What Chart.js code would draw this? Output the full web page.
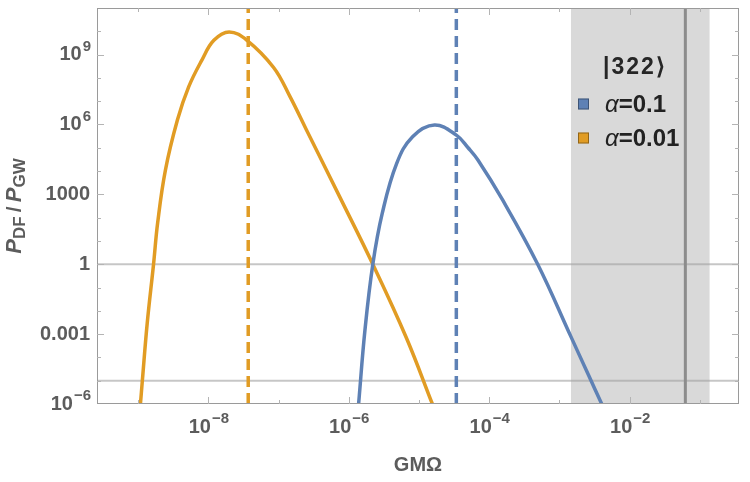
<!DOCTYPE html>
<html>
<head>
<meta charset="utf-8">
<title>P_DF / P_GW</title>
<script src="https://cdn.jsdelivr.net/npm/chart.js@4.4.1/dist/chart.umd.min.js"></script>
<style>
  html, body { margin: 0; padding: 0; background: #fff; }
</style>
</head>
<body>
<canvas id="ratioChart" width="750" height="482"></canvas>
<script>
// alpha = 0.01 curve (GM*Omega vs P_DF/P_GW)
const omegaA001 = [1.08e-9, 1.15e-9, 1.35e-9, 1.66e-9, 1.9e-9, 2.45e-9, 3.63e-9, 5.25e-9, 8.1e-9, 1.2e-8, 1.98e-8, 3.55e-8, 8.5e-8, 1.45e-7, 2.5e-7, 7.4e-7, 2.2e-6, 6.6e-6, 1.55e-5];
const ratioA001 = [1e-6, 1e-5, 3e-3, 1, 60, 1.1e4, 1.55e6, 4.1e7, 5.8e8, 4.1e9, 9.4e9, 4.1e9, 2.8e8, 1.6e7, 5.8e5, 800, 1, 7e-4, 1e-6];

// alpha = 0.1 curve
const omegaA01 = [1.38e-6, 1.7e-6, 2.2e-6, 3.0e-6, 4.8e-6, 8.1e-6, 1.66e-5, 3.4e-5, 5.0e-5, 6.9e-5, 1.55e-4, 4.9e-4, 1.45e-3, 2.6e-3, 4e-3];
const ratioA01 = [1e-6, 1.5e-3, 1, 155, 2.1e4, 3e5, 9.5e5, 3.5e5, 1e5, 3e4, 575, 1, 8e-4, 1.7e-5, 1e-6];

const seriesNames = ['α=0.1', 'α=0.01'];
const legendTitle = '|322⟩';

// dashed markers (alpha=0.1, alpha=0.01), shaded band, solid cutoff, reference levels
const dashOmega = [3.4e-5, 3.7e-8];
const bandOmega = [1.45e-3, 0.138];
const cutoffOmega = 0.062;
const refRatios = [1, 1e-5];

// axes
const xRange = [2.6e-10, 0.36];
const yRange = [1e-6, 1e11];
const xTickValues = [1e-8, 1e-6, 1e-4, 1e-2];
const xTickLabels = ['10^−8', '10^−6', '10^−4', '10^−2'];
const yTickValues = [1e-6, 1e-3, 1, 1e3, 1e6, 1e9];
const yTickLabels = ['10^−6', '0.001', '1', '1000', '10^6', '10^9'];
const xTitle = 'GMΩ';

const blue = '#5e81b5';
const orange = '#e19c24';
const textColor = '#5c5c5c';
const FONT = '"Liberation Sans", Arial, sans-serif';

const toPoints = (xs, ys) => xs.map((x, i) => ({ x: x, y: ys[i] }));

const datasets = [
  {
    label: seriesNames[0], data: toPoints(omegaA01, ratioA01),
    borderColor: blue, borderWidth: 3.5, pointRadius: 0, tension: 0.4
  },
  {
    label: seriesNames[1], data: toPoints(omegaA001, ratioA001),
    borderColor: orange, borderWidth: 3.5, pointRadius: 0, tension: 0.4
  },
  {
    label: 'dash 0.1', data: [{ x: dashOmega[0], y: yRange[0] }, { x: dashOmega[0], y: yRange[1] }],
    borderColor: blue, borderWidth: 3.5, borderDash: [11, 6], pointRadius: 0
  },
  {
    label: 'dash 0.01', data: [{ x: dashOmega[1], y: yRange[0] }, { x: dashOmega[1], y: yRange[1] }],
    borderColor: orange, borderWidth: 3.5, borderDash: [11, 6], pointRadius: 0
  },
  {
    label: 'cutoff', data: [{ x: cutoffOmega, y: yRange[0] }, { x: cutoffOmega, y: yRange[1] }],
    borderColor: '#8c8c8c', borderWidth: 3, pointRadius: 0
  }
];
refRatios.forEach(r => {
  datasets.push({
    label: 'ref ' + r, data: [{ x: xRange[0], y: r }, { x: xRange[1], y: r }],
    borderColor: 'rgba(160,160,160,0.6)', borderWidth: 2, pointRadius: 0
  });
});
datasets.push({
  label: 'band', data: [{ x: bandOmega[0], y: yRange[0] }, { x: bandOmega[1], y: yRange[0] }],
  borderWidth: 0, pointRadius: 0, fill: 'end', backgroundColor: '#d9d9d9'
});

// "10^-6" -> "10" with a raised exponent
function drawPower(ctx, text, x, y, align) {
  const parts = text.split('^');
  const baseFont = 'bold 20px ' + FONT;
  const supFont = 'bold 15px ' + FONT;
  ctx.font = baseFont;
  const wb = ctx.measureText(parts[0]).width;
  let we = 0;
  if (parts[1]) { ctx.font = supFont; we = ctx.measureText(parts[1]).width; }
  const total = wb + we;
  const x0 = align === 'right' ? x - total : x - total / 2;
  ctx.textAlign = 'left';
  ctx.textBaseline = 'middle';
  ctx.font = baseFont;
  ctx.fillText(parts[0], x0, y);
  if (parts[1]) {
    ctx.font = supFont;
    ctx.fillText(parts[1], x0 + wb + 1, y - 8);
  }
}

const framePlugin = {
  id: 'frame',
  afterDraw(chart) {
    const { ctx, chartArea: a, scales: { x, y } } = chart;
    ctx.save();

    // frame
    ctx.strokeStyle = '#9a9a9a';
    ctx.lineWidth = 1;
    ctx.strokeRect(a.left + 0.5, a.top + 0.5, a.right - a.left - 1, a.bottom - a.top - 1);

    // inward tick marks, one per decade
    ctx.strokeStyle = '#b4b4b4';
    ctx.beginPath();
    for (let k = -9; k <= -1; k++) {
      const px = Math.round(x.getPixelForValue(Math.pow(10, k))) + 0.5;
      const len = k % 2 === 0 ? 7 : 4;
      ctx.moveTo(px, a.bottom); ctx.lineTo(px, a.bottom - len);
      ctx.moveTo(px, a.top); ctx.lineTo(px, a.top + len);
    }
    for (let k = -5; k <= 10; k++) {
      const py = Math.round(y.getPixelForValue(Math.pow(10, k))) + 0.5;
      const len = k % 3 === 0 ? 7 : 4;
      ctx.moveTo(a.left, py); ctx.lineTo(a.left + len, py);
      ctx.moveTo(a.right, py); ctx.lineTo(a.right - len, py);
    }
    ctx.stroke();

    // tick labels
    ctx.fillStyle = textColor;
    xTickValues.forEach((v, i) => drawPower(ctx, xTickLabels[i], x.getPixelForValue(v), 427, 'center'));
    yTickValues.forEach((v, i) => drawPower(ctx, yTickLabels[i], a.left - 7, y.getPixelForValue(v), 'right'));

    // x title
    ctx.font = 'bold 20px ' + FONT;
    ctx.textAlign = 'center';
    ctx.textBaseline = 'middle';
    ctx.fillText(xTitle, (a.left + a.right) / 2, 465);

    // y title: P_DF / P_GW, rotated
    ctx.save();
    ctx.translate(21, (a.top + a.bottom) / 2);
    ctx.rotate(-Math.PI / 2);
    ctx.textAlign = 'left';
    ctx.textBaseline = 'alphabetic';
    const pieces = [
      ['P', 'italic bold 22px ', 0], ['DF', 'bold 17px ', 4], ['\u2009/\u2009', 'bold 21px ', 0],
      ['P', 'italic bold 22px ', 0], ['GW', 'bold 17px ', 4]
    ];
    let w = 0;
    pieces.forEach(p => { ctx.font = p[1] + FONT; w += ctx.measureText(p[0]).width; });
    let cx = -w / 2;
    pieces.forEach(p => {
      ctx.font = p[1] + FONT;
      ctx.fillText(p[0], cx, p[2]);
      cx += ctx.measureText(p[0]).width;
    });
    ctx.restore();

    // legend
    ctx.fillStyle = '#262626';
    ctx.font = 'bold 23px ' + FONT;
    ctx.textAlign = 'left';
    ctx.textBaseline = 'middle';
    ctx.letterSpacing = '2px';
    ctx.fillText(legendTitle, 603, 68);
    ctx.letterSpacing = '0px';
    const colors = [blue, orange];
    const rows = [104, 138];
    seriesNames.forEach((name, i) => {
      ctx.fillStyle = colors[i];
      ctx.fillRect(578, rows[i] - 5.5, 11, 11);
      ctx.strokeStyle = 'rgba(0,0,0,0.35)';
      ctx.lineWidth = 1;
      ctx.strokeRect(578.5, rows[i] - 5, 10, 10);
      const eq = name.indexOf('=');
      ctx.fillStyle = '#222';
      ctx.font = 'italic 24px ' + FONT;
      ctx.fillText(name.slice(0, eq), 605, rows[i] + 1);
      const wa = ctx.measureText(name.slice(0, eq)).width;
      ctx.font = 'bold 24px ' + FONT;
      ctx.fillText(name.slice(eq), 605 + wa, rows[i] + 1);
    });

    ctx.restore();
  }
};

new Chart(document.getElementById('ratioChart'), {
  type: 'line',
  data: { datasets: datasets },
  options: {
    responsive: false,
    animation: false,
    layout: { padding: { top: 8, right: 11, left: 0, bottom: 0 } },
    scales: {
      x: {
        type: 'logarithmic', min: xRange[0], max: xRange[1],
        ticks: { display: false }, grid: { display: false }, border: { display: false },
        afterFit: s => { s.height = 78; }
      },
      y: {
        type: 'logarithmic', min: yRange[0], max: yRange[1],
        ticks: { display: false }, grid: { display: false }, border: { display: false },
        afterFit: s => { s.width = 97; }
      }
    },
    plugins: { legend: { display: false }, tooltip: { enabled: false } }
  },
  plugins: [framePlugin]
});
</script>
</body>
</html>
